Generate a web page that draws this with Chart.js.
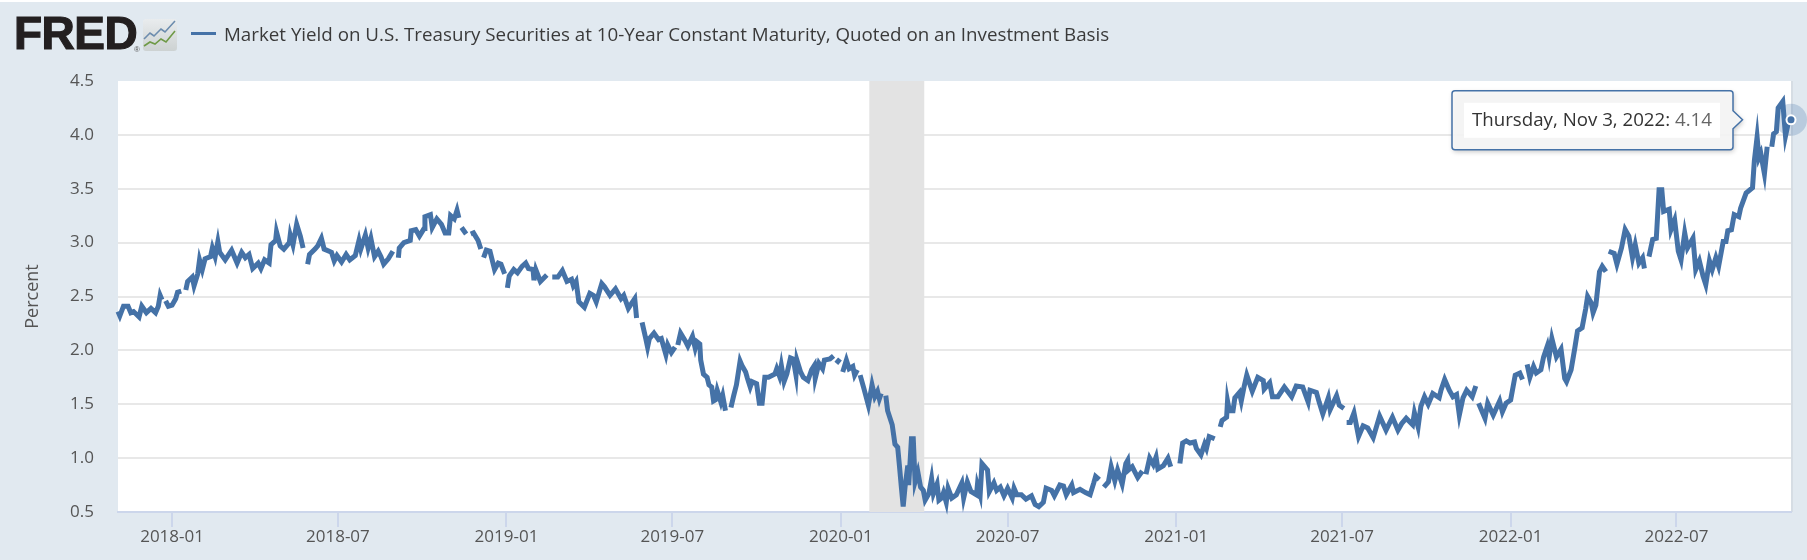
<!DOCTYPE html>
<html>
<head>
<meta charset="utf-8">
<title>FRED DGS10</title>
<script src="https://cdn.jsdelivr.net/npm/chart.js@4/dist/chart.umd.min.js"></script>
<style>
  html, body { margin: 0; padding: 0; background: #e1e9f0; overflow: hidden; }
  #wrap { position: relative; width: 1807px; height: 560px; }
  #strip { position: absolute; left: 0; top: 0; width: 1807px; height: 2px; background: #fff; }
  #logo { position: absolute; left: 14px; top: 8px; font: bold 46px/50px "Liberation Sans"; color: #231f20;
          -webkit-text-stroke: 1.2px #231f20; letter-spacing: -0.5px; }
  #reg { position: absolute; left: 134px; top: 45px; font: 8px/10px "Liberation Sans"; color: #555; }
  #icon { position: absolute; left: 143px; top: 19px; }
  #swatch { position: absolute; left: 191px; top: 32px; width: 25px; height: 3px; background: #4572a7; }
  #legend { position: absolute; left: 224px; top: 21px; font: 18.75px/26px "Open Sans"; color: #3a3a3a; white-space: nowrap; }
  canvas { position: absolute; left: 0; top: 0; }
</style>
</head>
<body>
<div id="wrap">
  <canvas id="myChart" width="1807" height="560"></canvas>
  <div id="strip"></div>
  <div id="logo">FRED</div>
  <div id="reg">®</div>
  <svg id="icon" width="34" height="32" viewBox="0 0 34 32">
    <defs><linearGradient id="g" x1="0" y1="0" x2="0" y2="1"><stop offset="0" stop-color="#e9ecee"/><stop offset="1" stop-color="#cdd2d2"/></linearGradient></defs>
    <rect width="34" height="32" rx="3" fill="url(#g)"/>
    <polyline points="1,20 7,14 11,17 18,10 22,13 32,2" fill="none" stroke="#6c8cae" stroke-width="1.6"/>
    <polyline points="1,27 7,23 12,25 18,20 23,23 32,12" fill="none" stroke="#6f9a47" stroke-width="1.6"/>
  </svg>
  <div id="swatch"></div>
  <div id="legend">Market Yield on U.S. Treasury Securities at 10-Year Constant Maturity, Quoted on an Investment Basis</div>
</div>
<script>
var seriesName = 'Market Yield on U.S. Treasury Securities at 10-Year Constant Maturity, Quoted on an Investment Basis';
var startDate = '2017-11-03'; // days below count from here
var endDate = '2022-11-03';
var tickLabels = ['2018-01','2018-07','2019-01','2019-07','2020-01','2020-07','2021-01','2021-07','2022-01','2022-07'];
var yTicks = [0.5,1.0,1.5,2.0,2.5,3.0,3.5,4.0,4.5];
var recession = ['2020-02-01','2020-04-01'];
var noteDate = 'Thursday, Nov 3, 2022:';
var noteValue = '4.14';

// null = a break in the line
var days = [
  0,2,6,11,14,17,23,26,31,36,
  41,44,46,48,50,52,55,59,63,65,
  69,71,74,76,81,83,87,89,92,95,
  101,103,106,109,111,117,124,130,135,139,
  143,147,153,156,160,165,167,172,173,177,
  181,187,188,191,195,199,202,204,207,209,
  215,218,222,225,233,236,239,244,249,253,
  259,263,265,270,273,276,280,284,287,290,
  295,300,302,306,307,312,319,320,325,329,
  334,335,341,343,348,353,357,361,363,367,
  370,372,374,375,380,383,385,388,393,396,
  398,399,402,406,411,415,418,422,424,425,
  427,432,436,441,445,448,453,454,456,461,
  468,470,474,480,485,490,495,497,500,503,
  509,515,519,522,528,531,537,543,549,552,
  557,560,564,566,568,572,576,578,580,585,
  590,593,598,600,604,608,609,611,614,619,
  622,627,630,632,635,636,639,643,645,648,
  650,652,654,658,660,663,665,669,672,675,
  679,681,685,687,690,692,697,700,703,706,
  710,717,719,722,724,727,730,734,737,740,
  741,745,748,753,757,760,761,765,769,771,
  777,781,783,784,788,790,791,795,798,802,
  804,807,809,810,814,819,823,826,829,831,
  833,835,838,840,845,848,851,853,855,857,
  859,862,863,866,868,870,873,876,879,881,
  885,888,890,894,896,899,901,904,906,910,
  915,921,923,927,931,937,938,941,943,949,
  951,956,959,963,967,971,976,978,981,986,
  991,997,1001,1005,1010,1013,1019,1022,1028,1032,
  1035,1041,1043,1050,1056,1061,1065,1067,1071,1073,
  1076,1081,1084,1088,1091,1096,1100,1102,1103,1107,
  1113,1118,1120,1122,1126,1130,1133,1135,1141,1146,
  1149,1151,1153,1155,1159,1162,1166,1170,1175,1177,
  1182,1186,1188,1191,1197,1199,1203,1205,1210,1211,
  1213,1217,1219,1224,1226,1229,1232,1238,1244,1250,
  1251,1257,1260,1266,1273,1281,1286,1293,1299,1301,
  1308,1311,1315,1321,1323,1330,1333,1338,1340,1341,
  1345,1349,1354,1359,1364,1370,1377,1384,1391,1397,
  1401,1406,1413,1415,1419,1422,1426,1430,1435,1442,
  1444,1448,1453,1457,1461,1464,1468,1472,1478,1482,
  1484,1485,1492,1495,1501,1508,1511,1515,1520,1525,
  1530,1533,1535,1538,1541,1545,1548,1553,1556,1560,
  1562,1565,1570,1575,1579,1581,1586,1590,1593,1598,
  1602,1604,1608,1610,1613,1617,1620,1624,1626,1627,
  1633,1636,1641,1645,1649,1653,1656,1660,1664,1666,
  1668,1671,1675,1679,1682,1685,1687,1693,1695,1699,
  1703,1706,1710,1713,1719,1722,1726,1730,1733,1737,
  1740,1744,1747,1752,1755,1757,1761,1764,1769,1771,
  1777,1784,1786,1789,1791,1793,1797,1800,1802,1805,
  1807,1810,1812,1817,1820,1823,1826
];
var yields = [
  2.36,2.32,2.41,2.41,2.35,2.36,2.31,2.41,2.35,2.39,
  2.35,2.41,2.51,2.47,null,2.46,2.41,2.42,2.48,2.54,
  2.55,null,2.56,2.64,2.68,2.60,2.71,2.84,2.75,2.85,
  2.87,2.95,2.87,3.01,2.91,2.84,2.93,2.81,2.91,2.86,
  2.89,2.76,2.81,2.76,2.84,2.81,2.98,3.02,3.10,2.97,
  2.94,3.00,3.07,2.98,3.17,3.06,2.95,null,2.80,2.89,
  2.94,2.97,3.04,2.94,2.91,2.83,2.88,2.82,2.89,2.84,
  2.88,3.02,2.94,3.07,2.95,3.04,2.87,2.92,2.87,2.80,
  2.85,2.92,null,2.86,2.95,3.00,3.02,3.11,3.12,3.06,
  3.13,3.24,3.26,3.14,3.22,3.17,3.09,3.09,3.25,3.22,
  3.30,3.23,null,3.14,3.08,null,3.08,3.09,3.02,2.94,
  null,2.86,2.93,2.92,2.75,2.81,2.80,2.71,null,2.58,
  2.69,2.75,2.72,2.78,2.81,2.76,2.75,2.65,2.75,2.64,
  2.70,null,2.68,2.68,2.74,2.64,2.66,2.60,2.64,2.45,
  2.40,2.53,2.51,2.45,2.62,2.59,2.51,2.57,2.48,2.51,
  2.39,2.43,2.48,2.30,null,2.26,2.11,2.03,2.11,2.16,
  2.10,2.11,1.96,2.05,1.98,2.03,null,2.05,2.16,2.09,
  2.04,2.13,2.02,2.08,2.06,1.91,1.78,1.75,1.68,1.66,
  1.53,1.54,1.63,1.52,1.58,1.44,null,1.47,1.58,1.68,
  1.90,1.86,1.80,1.74,1.66,1.71,1.69,1.51,1.51,1.75,
  1.75,1.78,1.83,1.76,1.86,1.71,1.78,1.93,1.92,1.77,
  1.91,1.80,1.75,1.72,1.82,1.86,1.74,1.88,1.83,1.91,
  1.92,1.95,null,1.88,1.92,null,1.80,1.91,1.83,1.85,
  1.77,1.82,null,1.77,1.65,1.49,1.68,1.57,1.62,1.55,
  1.60,null,1.58,1.44,1.31,1.13,1.10,0.92,0.73,0.55,
  0.73,0.93,0.75,1.18,1.18,0.78,0.87,0.73,0.70,0.61,
  0.67,0.81,0.67,0.76,0.61,0.63,0.68,0.59,0.72,0.63,
  0.66,0.77,0.63,0.78,0.69,0.66,0.75,0.66,0.95,0.89,
  0.69,0.77,0.70,0.73,0.65,0.72,0.63,0.72,0.66,0.66,
  0.62,0.65,0.57,0.55,0.59,0.72,0.70,0.65,0.75,0.74,
  0.66,0.75,0.68,0.71,0.68,0.66,0.77,0.83,0.80,null,
  0.73,0.78,0.92,0.79,0.89,0.76,0.95,0.98,0.89,0.92,
  0.82,0.88,null,0.85,1.00,0.94,1.01,0.90,0.93,1.00,
  0.92,null,0.95,null,0.95,1.14,1.16,1.14,1.15,1.09,
  1.03,1.13,1.09,1.20,1.18,null,1.29,1.35,1.38,1.53,
  1.44,1.44,1.56,1.61,1.53,1.66,1.77,1.62,1.75,1.72,
  1.64,1.70,1.57,1.57,1.66,1.57,1.67,1.66,1.52,1.63,
  1.61,1.52,1.41,1.56,1.45,1.58,1.49,1.46,null,1.33,
  1.33,1.42,1.20,1.30,1.28,1.19,1.39,1.26,1.38,1.26,
  1.32,1.37,1.31,1.42,1.29,1.48,1.57,1.50,1.60,1.56,
  1.63,1.73,1.63,1.57,1.59,1.40,1.56,1.63,1.57,1.67,
  null,1.51,1.37,1.51,1.40,1.53,1.43,1.51,1.54,1.77,
  1.79,1.73,null,1.87,1.75,1.85,1.79,1.82,1.94,2.04,
  1.94,2.11,1.94,2.01,1.74,1.71,1.82,2.02,2.18,2.21,
  2.39,2.50,2.44,2.35,2.42,2.73,2.78,2.73,null,2.92,
  2.90,2.80,2.95,3.12,3.06,2.86,2.98,2.81,2.86,2.76,
  null,2.87,3.03,3.04,3.49,3.49,3.29,3.31,3.12,3.21,
  2.92,2.84,3.09,2.95,3.04,2.75,2.83,2.69,2.61,2.83,
  2.75,2.86,2.78,3.01,3.01,3.11,3.12,3.26,3.24,3.32,
  3.46,3.51,3.76,3.98,3.79,3.83,3.64,3.89,null,3.89,
  4.01,4.03,4.25,4.31,3.99,4.11,4.14
];

function dayOf(s) {
  var t = new Date(s.length == 7 ? s + '-01' : s);
  return (t - new Date(startDate)) / 86400000;
}

var lineColor = '#4572a7';
var font = 'Open Sans';
var pts = days.map(function (d, i) { return { x: d, y: yields[i] }; });
var lastIdx = pts.length - 1;

// white plot background, recession band, hover halo
var backdrop = {
  id: 'backdrop',
  beforeDraw: function (chart) {
    var a = chart.chartArea, c = chart.ctx;
    c.save();
    c.fillStyle = '#fff';
    c.fillRect(a.left, a.top, a.right - a.left, a.bottom - a.top);
    c.fillStyle = '#d6dde4';
    c.fillRect(a.right, a.top, 2, a.bottom - a.top);
    c.restore();
  },
  beforeDatasetsDraw: function (chart) {
    var a = chart.chartArea, c = chart.ctx, x = chart.scales.x;
    var x0 = x.getPixelForValue(dayOf(recession[0]));
    var x1 = x.getPixelForValue(dayOf(recession[1]));
    c.save();
    c.fillStyle = '#e3e3e3';
    c.fillRect(x0, a.top, x1 - x0, a.bottom - a.top);
    c.restore();
  },
  afterDatasetsDraw: function (chart) {
    var c = chart.ctx;
    var px = chart.scales.x.getPixelForValue(days[lastIdx]);
    var py = chart.scales.y.getPixelForValue(yields[lastIdx]);
    c.save();
    // halo under the marker
    c.fillStyle = 'rgba(69,114,167,0.25)';
    c.beginPath(); c.arc(px, py, 16, 0, Math.PI * 2); c.fill();
    c.fillStyle = '#fff';
    c.beginPath(); c.arc(px, py, 5.5, 0, Math.PI * 2); c.fill();
    c.fillStyle = lineColor;
    c.beginPath(); c.arc(px, py, 3.5, 0, Math.PI * 2); c.fill();

    // tooltip box hanging off the last point
    var l = px - 339, r = px - 58, t = py - 29, b = py + 30, rad = 3;
    c.beginPath();
    c.moveTo(l + rad, t);
    c.lineTo(r - rad, t);
    c.quadraticCurveTo(r, t, r, t + rad);
    c.lineTo(r, py - 9);
    c.lineTo(px - 48.5, py);
    c.lineTo(r, py + 9);
    c.lineTo(r, b - rad);
    c.quadraticCurveTo(r, b, r - rad, b);
    c.lineTo(l + rad, b);
    c.quadraticCurveTo(l, b, l, b - rad);
    c.lineTo(l, t + rad);
    c.quadraticCurveTo(l, t, l + rad, t);
    c.closePath();
    c.save();
    c.shadowColor = 'rgba(0,0,0,0.25)';
    c.shadowBlur = 5; c.shadowOffsetX = 1; c.shadowOffsetY = 2;
    c.fillStyle = 'rgba(247,247,247,0.92)';
    c.fill();
    c.restore();
    c.strokeStyle = lineColor;
    c.lineWidth = 1.5;
    c.stroke();
    c.fillStyle = '#fff';
    c.fillRect(l + 12, t + 12, 256, 35);
    c.font = '18.7px "' + font + '"';
    c.textBaseline = 'middle';
    c.fillStyle = '#333';
    c.fillText(noteDate, l + 20, py + 1);
    var w = c.measureText(noteDate + ' ').width;
    c.fillStyle = '#666';
    c.fillText(noteValue, l + 20 + w, py + 1);
    c.restore();
  }
};

var ctx = document.getElementById('myChart');
var myChart = new Chart(ctx, {
  type: 'line',
  data: {
    datasets: [{
      label: seriesName,
      data: pts,
      borderColor: lineColor,
      backgroundColor: lineColor,
      borderWidth: 5,
      pointRadius: 0,
      tension: 0,
      spanGaps: false,
      clip: false
    }]
  },
  options: {
    responsive: false,
    animation: false,
    events: [],
    layout: { padding: { top: 81, right: 16, left: 0, bottom: 0 } },
    plugins: { legend: { display: false }, tooltip: { enabled: false } },
    scales: {
      x: {
        type: 'linear',
        min: 0,
        max: dayOf(endDate),
        afterFit: function (s) { s.height = 48; },
        afterBuildTicks: function (s) {
          s.ticks = tickLabels.map(function (m) { return { value: dayOf(m) }; });
        },
        grid: { drawOnChartArea: false, color: '#ccd6eb', lineWidth: 2, tickLength: 15 },
        border: { color: '#ccd6eb', width: 2 },
        ticks: {
          autoSkip: false, maxRotation: 0, padding: 0, color: '#555',
          font: { family: font, size: 17 },
          callback: function (v, i) { return tickLabels[i]; }
        }
      },
      y: {
        min: yTicks[0],
        max: yTicks[yTicks.length - 1],
        afterFit: function (s) { s.width = 118; },
        afterBuildTicks: function (s) {
          s.ticks = yTicks.map(function (v) { return { value: v }; });
        },
        grid: {
          drawTicks: false, lineWidth: 2,
          color: function (c) { return c.tick.value == 4.5 || c.tick.value == 0.5 ? 'rgba(0,0,0,0)' : '#e8e8e8'; }
        },
        border: { display: false },
        title: { display: true, text: 'Percent', color: '#555', padding: { top: 22, bottom: 0 }, font: { family: font, size: 18, weight: 'normal' } },
        ticks: {
          padding: 24, color: '#555',
          font: { family: font, size: 17 },
          callback: function (v) { return v.toFixed(1); }
        }
      }
    }
  },
  plugins: [backdrop]
});
</script>
</body>
</html>
